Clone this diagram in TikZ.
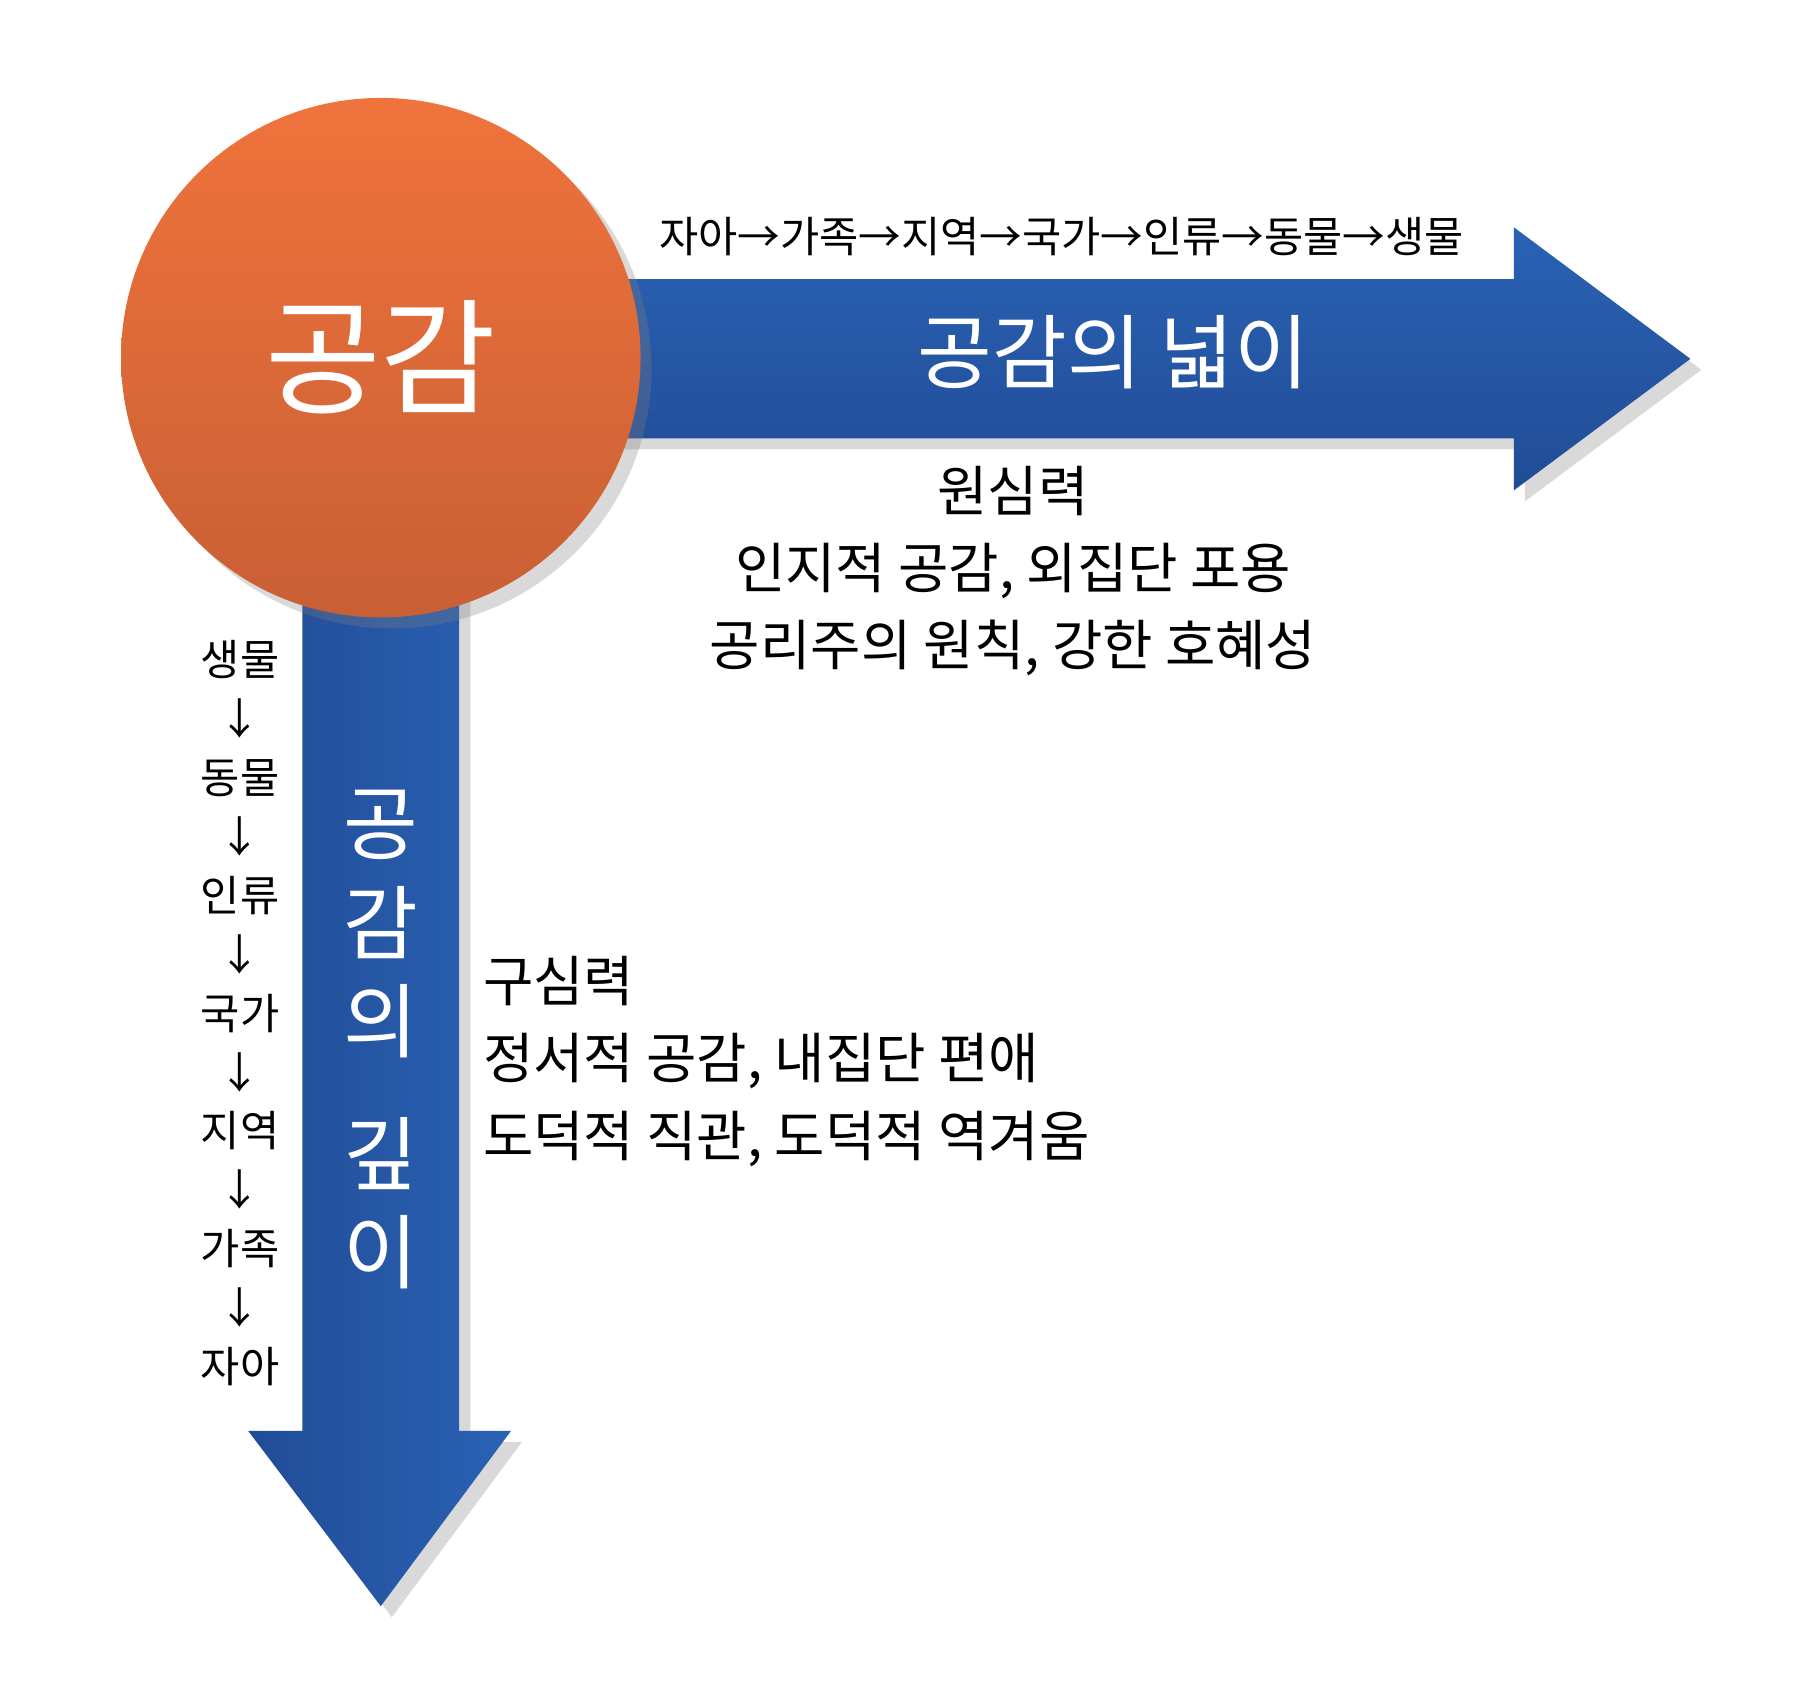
\documentclass[tikz,border=0pt]{standalone}
\usepackage{fontspec}
\setmainfont{Noto Sans CJK KR}
\usetikzlibrary{positioning,shadows}
\definecolor{bluetop}{HTML}{2A62B4}
\definecolor{bluebot}{HTML}{214C96}
\definecolor{orangetop}{HTML}{EF733C}
\definecolor{orangebot}{HTML}{C95F34}
\begin{document}
\begin{tikzpicture}[x=0.01cm,y=-0.01cm,
  chain/.style={font=\fontsize{10.5}{12}\selectfont,inner sep=0pt},
  body/.style={font=\fontsize{13.5}{19}\selectfont,inner sep=0pt},
  big/.style={font=\fontsize{20}{22}\selectfont,text=white,inner sep=0pt}]
  \useasboundingbox (0,0) rectangle (1560,1461);
  % arrows
  \shade[top color=bluetop,bottom color=bluebot,drop shadow={opacity=0.3}]
    (500,242) -- (1312,242) -- (1312,197) -- (1465,311) -- (1312,425) -- (1312,380) -- (500,380) -- cycle;
  \shade[left color=bluebot,right color=bluetop,drop shadow={opacity=0.3}]
    (262,480) -- (398,480) -- (398,1240) -- (443,1240) -- (330,1392) -- (215,1240) -- (262,1240) -- cycle;
  % circle
  \node[circle,minimum size=4.5cm,inner sep=0pt,top color=orangetop,bottom color=orangebot,
    drop shadow={opacity=0.3},font=\fontsize{31}{33}\selectfont,text=white] (core) at (330,310) {공감};
  \node[big] (width) at (965,305) {공감의 넓이};
  \foreach \ch/\yy [count=\i] in {공/715,감/800,의/885,깊/1000,이/1085}
    \node[big] (depth\i) at (330,\yy) {\ch};
  % chains
  \node[chain] (outer) at (920,205) {자아→가족→지역→국가→인류→동물→생물};
  \foreach \w/\yy [count=\i] in {생물/572,동물/674,인류/776,국가/878,지역/980,가족/1082,자아/1184}
    \node[chain] (step\i) at (208,\yy) {\w};
  \foreach \yy in {623,725,827,929,1031,1133}
    \node[chain] at (208,\yy) {↓};
  % descriptions
  \node[body,align=center] (far) at (878,495) {원심력\\인지적 공감, 외집단 포용\\공리주의 원칙, 강한 호혜성};
  \node[body,align=left,anchor=west] (near) at (418,920) {구심력\\정서적 공감, 내집단 편애\\도덕적 직관, 도덕적 역겨움};
\end{tikzpicture}
\end{document}
